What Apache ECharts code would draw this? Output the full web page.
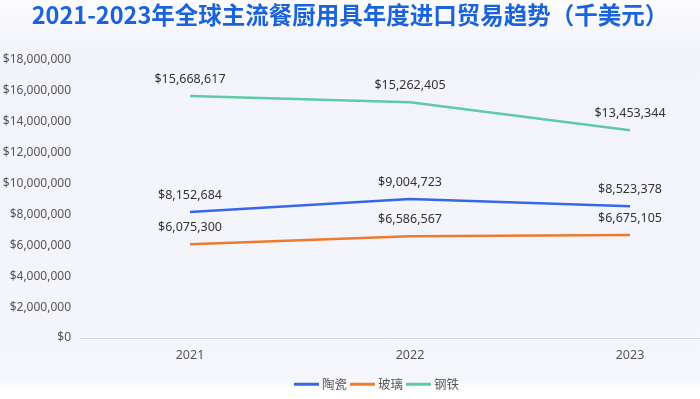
<!DOCTYPE html>
<html>
<head>
<meta charset="utf-8">
<script src="https://cdn.jsdelivr.net/npm/echarts@6/dist/echarts.min.js"></script>
<style>
  html, body { margin: 0; padding: 0; }
  #main { width: 700px; height: 399px; }
</style>
</head>
<body>
<div id="main"></div>
<script>
var years = ['2021', '2022', '2023'];
var ceramic = [8152684, 9004723, 8523378];
var glass = [6075300, 6586567, 6675105];
var steel = [15668617, 15262405, 13453344];

var myChart = echarts.init(document.getElementById('main'));

function money(v) {
  return '$' + Number(v).toLocaleString('en-US');
}

function line(name, data, color) {
  return {
    name: name,
    type: 'line',
    data: data,
    symbol: 'circle',
    symbolSize: 0,
    showSymbol: true,
    lineStyle: { width: 2.5, color: color },
    itemStyle: { color: color },
    label: {
      show: true,
      position: 'top',
      distance: 10,
      color: '#333',
      fontSize: 12.5,
      fontFamily: 'Noto Sans',
      formatter: function (p) { return money(p.value); }
    }
  };
}

var option = {
  backgroundColor: new echarts.graphic.LinearGradient(0, 0, 0, 1, [
    { offset: 0, color: '#fcfcfe' },
    { offset: 0.12, color: '#f3f4fb' },
    { offset: 0.95, color: '#f5f6fb' },
    { offset: 0.97, color: '#fdfdfe' },
    { offset: 1, color: '#ffffff' }
  ]),
  animation: false,
  title: {
    text: '2021-2023年全球主流餐厨用具年度进口贸易趋势（千美元）',
    left: 'center',
    top: -2,
    textStyle: {
      color: '#1b63d8',
      fontSize: 23.5,
      fontWeight: 'bold',
      fontFamily: 'Noto Sans CJK SC'
    }
  },
  legend: {
    top: 373,
    left: 289,
    itemWidth: 25,
    itemHeight: 3,
    itemGap: 3,
    icon: 'rect',
    textStyle: { color: '#555', fontSize: 12.5, fontFamily: 'Noto Sans CJK SC', padding: [0, 0, 0, -2] },
    data: ['陶瓷', '玻璃', '钢铁']
  },
  grid: { left: 80, width: 660, top: 60, bottom: 61, outerBoundsMode: 'none', containLabel: false },
  xAxis: {
    type: 'category',
    data: years,
    boundaryGap: true,
    axisLine: { lineStyle: { color: '#d6d7de' } },
    axisTick: { show: false },
    axisLabel: { color: '#555', fontSize: 12.5, margin: 11, fontFamily: 'Noto Sans' }
  },
  yAxis: {
    type: 'value',
    min: 0,
    max: 18000000,
    interval: 2000000,
    axisLine: { show: false },
    axisTick: { show: false },
    splitLine: { show: false },
    axisLabel: {
      color: '#555',
      fontSize: 12,
      margin: 9,
      fontFamily: 'Noto Sans',
      formatter: money
    }
  },
  series: [
    line('陶瓷', ceramic, '#3568e6'),
    line('玻璃', glass, '#ec7a30'),
    line('钢铁', steel, '#5ecba6')
  ]
};

myChart.setOption(option);
</script>
</body>
</html>
